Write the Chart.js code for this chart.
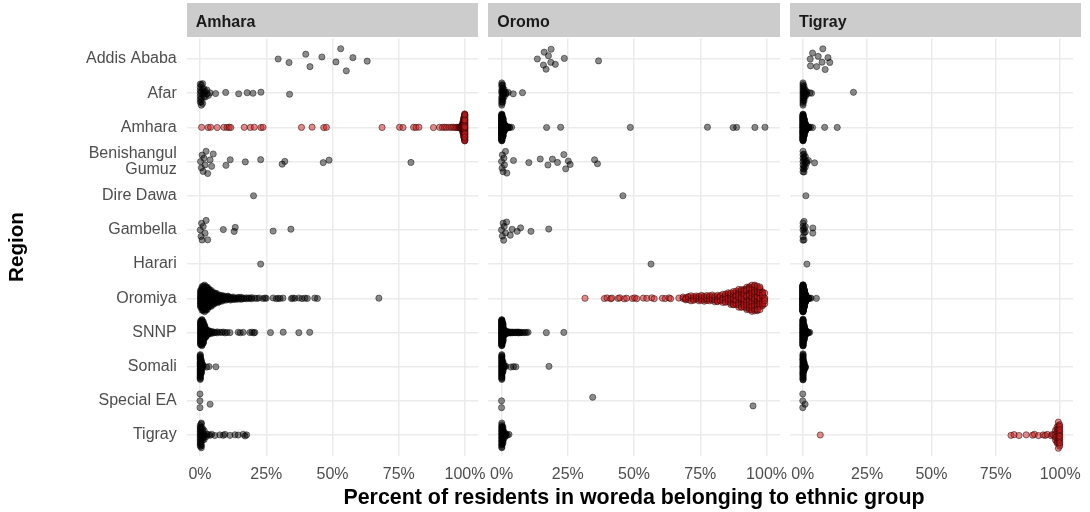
<!DOCTYPE html>
<html>
<head>
<meta charset="utf-8">
<script src="https://cdn.jsdelivr.net/npm/chart.js@4.4.1/dist/chart.umd.min.js"></script>
<style>
  html, body { margin: 0; padding: 0; background: #fff; }
  body { width: 1090px; height: 512px; position: relative; overflow: hidden;
         font-family: "Liberation Sans", Arial, Helvetica, sans-serif; }
  canvas { position: absolute; left: 0; top: 0; }
  .strip { position: absolute; top: 3.3px; height: 34.2px; background: #cccccc; }
  .strip span { position: absolute; left: 9px; top: 10.5px; font-size: 16px; line-height: 16px;
                font-weight: bold; color: #1a1a1a; white-space: nowrap; }
  .xtitle { position: absolute; left: 0; width: 1268px; top: 486.5px; text-align: center;
            font-size: 21.4px; line-height: 21.4px; font-weight: bold; color: #000; white-space: nowrap; }
  .ytitle { position: absolute; left: -84px; top: 235px; width: 200px; height: 24px; line-height: 24px;
            text-align: center; font-size: 20.6px; font-weight: bold; color: #000;
            transform: rotate(-90deg); }
</style>
</head>
<body>
<canvas id="panel0" width="1090" height="512"></canvas>
<canvas id="panel1" width="1090" height="512"></canvas>
<canvas id="panel2" width="1090" height="512"></canvas>
<div id="strips"></div>
<div class="ytitle">Region</div>
<div class="xtitle">Percent of residents in woreda belonging to ethnic group</div>
<script>
(function () {
  "use strict";

  // 지역(행) / 민족(패널) / 눈금
  const regions = ["Addis Ababa", "Afar", "Amhara", "Benishangul Gumuz", "Dire Dawa", "Gambella",
    "Harari", "Oromiya", "SNNP", "Somali", "Special EA", "Tigray"];
  const panels = ["Amhara", "Oromo", "Tigray"];
  const homeRegion = ["Amhara", "Oromiya", "Tigray"];
  const xTicks = [0, 25, 50, 75, 100];

  // woreda share (%) per region, in region order.
  // a number = one woreda, [value, count] = count woredas at that value
  const amharaShare = [
    [29.5, 33.6, 39.9, 41.5, 46.0, 51.3, 53.1, 55.2, 57.7, 63.1],
    [[0.1, 7], [0.5, 5], [1, 4], [1.5, 3], [2, 2], [2.6, 2], [3.2, 1], [3.8, 1], 5.9, 9.7, 14.6, 17.8, 20.0, 23.0, 33.8],
    [0.6, 3.1, 4.0, 6.5, 9.0, 10.2, 11.0, 11.6, 16.7, 19.0, 20.5, 23.0, 23.8, 38.3, 42.3, 46.7, 47.7,
      68.7, 75.3, 76.6, 80.6, 81.5, 82.6, 88.1, 90.4, 91.5, 92.3, 93.0, 94.0, 94.8, 95.5, 96.2, 96.8, 97.3,
      [97.8, 2], [98.2, 3], [98.6, 5], [99, 10], [99.3, 20], [99.6, 35], [99.9, 55]],
    [0.2, 0.5, 0.8, 1.2, 1.5, 1.9, 2.3, 2.9, 3.8, 4.4, 5.0, 9.8, 11.4, 17.1, 22.9, 31.0, 32.0, 46.5, 48.7, 79.6],
    [20.2],
    [0.1, 0.4, 0.6, 0.8, 1.2, 1.9, 2.3, 2.9, 8.8, 12.9, 13.3, 27.6, 34.3],
    [22.9],
    [[0.25, 18], [0.75, 17], [1.25, 18], [1.75, 17], [2.25, 15], [2.75, 15], [3.25, 11], [3.75, 11], [4.25, 9], [4.75, 8],
      [5.25, 7], [5.75, 7], [6.25, 6], [6.75, 5], [7.25, 5], [7.75, 4], [8.25, 4], [8.75, 3], [9.25, 3], [9.75, 3],
      [10.5, 5], [11.5, 4], [12.5, 4], [13.5, 3], [14.5, 3], [15.5, 3], [16.5, 2], [17.5, 2], [18.5, 2], [19.5, 2],
      20.7, 21.5, 22.3, 23.8, 24.5, 25.0, 27.6, 28.8, 29.5, 30.2, 31.3, 34.5, 35.0, 35.8, 37.3, 38.5, 39.6, 40.5,
      43.3, 44.3, 67.5],
    [[0.25, 30], [0.75, 28], [1.25, 22], [1.75, 15], [2.25, 9], [2.75, 6], [3.25, 4], [3.75, 3], [4.5, 3], [5.5, 2], [6.5, 2],
      7.5, 8.2, 8.8, 9.5, 10.2, 11.3, 14.4, 15.2, 16.3, 18.8, 19.6, 20.3, 20.7, 26.6, 31.4, 37.3, 41.4],
    [[0.1, 28], [0.5, 14], [1, 5], 2.5, 3.4, 6.0],
    [0, 0, 0, 3.8],
    [[0.1, 14], [0.5, 10], [1, 6], [1.6, 4], [2.5, 2], 3.2, 3.8, 4.4, 5.6, 7.5, 8.8, 9.4, 11.3, 13.2, 14.4, 16.3, 17.0, 17.6],
  ];

  const oromoShare = [
    [13.5, 15.8, 16.1, 16.8, 17.7, 18.6, 18.7, 20.3, 23.7, 36.6],
    [[0.1, 12], [0.5, 8], [1, 4], [1.7, 2], [2.5, 1], 4.4, 7.9],
    [[0.1, 70], [0.5, 50], [1, 20], [1.6, 8], [2.3, 4], [3, 2], [3.8, 1], 17.0, 22.3, 48.6, 77.7, 87.4, 88.7, 95.6, 99.4],
    [0.0, 0.2, 0.3, 0.6, 0.9, 1.1, 1.5, 2.0, 4.5, 10.3, 14.6, 17.5, 19.2, 21.1, 23.5, 24.2, 25.2, 25.9, 35.1, 36.2],
    [45.8],
    [0.0, 0.3, 0.6, 0.8, 1.0, 1.5, 1.9, 3.3, 4.0, 5.9, 7.2, 11.1, 17.8],
    [56.4],
    [31.5, 38.8, 39.8, 41.2, 41.6, 44.0, 44.6, 46.3, 47.2, 49.4, 50.2, 51.0, 53.5, 54.8, 56.7, 57.6, 60.7, 61.8, 63.2,
      63.8, 66.9,
      [68.5, 2], [69.5, 3], [70.5, 3], [71.5, 3], [72.5, 4], [73.5, 3], [74.5, 4], [75.5, 4], [76.5, 4], [77.5, 4],
      [78.5, 4], [79.5, 4], [80.5, 4], [81.5, 5], [82.5, 5], [83.5, 5], [84.5, 6], [85.5, 7], [86.5, 8], [87.5, 9],
      [88.5, 10], [89.5, 11], [90.5, 12], [91.5, 13], [92.5, 14], [93.5, 16], [94.5, 17], [95.5, 18], [96.5, 18],
      [97.5, 16], [98.5, 12], [99.3, 5]],
    [[0.1, 55], [0.5, 35], [1, 12], [1.6, 6], [2.2, 4], [2.8, 3], [3.4, 3], [4, 2], [4.6, 2], [5.2, 2], [5.8, 2],
      [6.4, 2], [7, 2], [7.6, 1], [8.2, 1], [8.8, 1], [9.4, 1], [10, 1], 16.9, 23.5],
    [[0.1, 30], [0.5, 12], [1, 4], [1.6, 1], 3.5, 4.5, 5.4, 17.9],
    [0, 0, 34.4, 94.9],
    [[0.1, 22], [0.5, 14], [1, 6], [1.6, 3], [2.2, 1], 2.8],
  ];

  const tigrayShare = [
    [2.9, 3.0, 3.8, 5.4, 6.0, 7.5, 7.8, 8.7, 9.8, 10.5],
    [[0.1, 14], [0.5, 8], [1, 4], [1.6, 2], 2.8, 3.4, 19.7],
    [[0.1, 75], [0.5, 50], [1, 22], [1.6, 8], [2.3, 3], 3.0, 3.8, 8.5, 13.4],
    [[0.1, 7], [0.5, 6], [1, 3], [1.5, 2], 2.2, 4.6],
    [1.2],
    [[0.1, 5], [0.5, 4], [1, 2], 3.9, 3.9],
    [1.6],
    [[0.1, 130], [0.5, 90], [1, 40], [1.6, 12], [2.2, 5], 2.7, 3.2, 5.3],
    [[0.1, 70], [0.5, 40], [1, 15], [1.6, 5], [2.2, 2], 2.7],
    [[0.1, 35], [0.5, 12], [1, 3]],
    [0, 0, 0.9, 0],
    [6.8, 80.9, 82.1, 84.0, 86.8, 89.3, 90.0, 91.6, 93.4, 94.2, 95.0, 96.5, 97.0, 97.5,
      [98.2, 4], [98.8, 6], [99.3, 8], [99.8, 14]],
  ];

  const shares = [amharaShare, oromoShare, tigrayShare];

  // 레이아웃 (px)
  const W = 1090;
  const panelLeft = [186.75, 488.3, 789.9];
  const panelWidth = 291.5;
  const plotTop = 38.5;
  const plotBottom = 455.5;

  const FONT = '"Liberation Sans", Arial, Helvetica, sans-serif';
  Chart.defaults.font.family = FONT;

  // --- quasirandom offsets (ggbeeswarm 방식) ---
  function expand(group) {
    const out = [];
    group.forEach((e) => {
      if (Array.isArray(e)) for (let k = 0; k < e[1]; k++) out.push(e[0]);
      else out.push(e);
    });
    return out;
  }

  function vanDerCorput(i) {
    let v = 0, denom = 1;
    while (i > 0) {
      denom *= 2;
      v += (i % 2) / denom;
      i = Math.floor(i / 2);
    }
    return v;
  }

  function quantile(sorted, p) {
    const h = (sorted.length - 1) * p;
    const lo = Math.floor(h);
    const hi = Math.min(lo + 1, sorted.length - 1);
    return sorted[lo] + (h - lo) * (sorted[hi] - sorted[lo]);
  }

  function bwNrd0(vals) {
    const n = vals.length;
    if (n < 2) return 1;
    const mean = vals.reduce((a, b) => a + b, 0) / n;
    const sd = Math.sqrt(vals.reduce((a, b) => a + (b - mean) * (b - mean), 0) / (n - 1));
    const sorted = vals.slice().sort((a, b) => a - b);
    const iqr = quantile(sorted, 0.75) - quantile(sorted, 0.25);
    let lo = Math.min(sd, iqr / 1.34);
    if (!lo) lo = sd || Math.abs(vals[0]) || 1;
    return 0.9 * lo * Math.pow(n, -0.2);
  }

  function quasirandom(vals, width) {
    const n = vals.length;
    if (n < 2) return vals.map(() => 0);
    const bw = bwNrd0(vals) * 0.5;
    const dens = vals.map((x) => {
      let s = 0;
      for (let j = 0; j < n; j++) {
        const z = (x - vals[j]) / bw;
        s += Math.exp(-0.5 * z * z);
      }
      return s;
    });
    const maxD = Math.max(...dens);
    const order = vals.map((v, i) => i).sort((a, b) => vals[a] - vals[b]);
    const rank = new Array(n);
    order.forEach((idx, r) => { rank[idx] = r + 1; });
    return vals.map((v, i) => (vanDerCorput(rank[i]) - 0.5) * 2 * (dens[i] / maxD) * width);
  }

  function buildPoints(share, p) {
    const home = [], other = [];
    share.forEach((group, r) => {
      const vals = expand(group);
      const offs = quasirandom(vals, 0.4);
      const target = regions[r] === homeRegion[p] ? home : other;
      vals.forEach((v, i) => target.push({ x: v, y: r - offs[i] }));
    });
    return { home, other };
  }

  function regionLabel(v) {
    const name = regions[Math.round(v)] || "";
    return name === "Benishangul Gumuz" ? ["Benishangul", "Gumuz"] : name;
  }

  function makePanel(p) {
    const pts = buildPoints(shares[p], p);
    const left = panelLeft[p];
    const showY = p === 0;
    const grid = { color: "#ebebeb", lineWidth: 1.5, drawTicks: false };
    return new Chart(document.getElementById("panel" + p).getContext("2d"), {
      type: "scatter",
      data: {
        datasets: [
          {
            label: "other",
            data: pts.other,
            backgroundColor: "rgba(0,0,0,0.45)",
            borderColor: "rgba(0,0,0,0.5)",
            pointRadius: 3.1,
            pointHoverRadius: 3.1,
            borderWidth: 0.9,
          },
          {
            label: "home",
            data: pts.home,
            backgroundColor: "rgba(200,30,30,0.5)",
            borderColor: "rgba(50,0,0,0.6)",
            pointRadius: 3.1,
            pointHoverRadius: 3.1,
            borderWidth: 0.9,
          },
        ],
      },
      options: {
        responsive: false,
        animation: false,
        devicePixelRatio: 1,
        events: [],
        layout: {
          padding: {
            left: showY ? 0 : left,
            right: W - (left + panelWidth),
            top: plotTop,
            bottom: 0,
          },
        },
        plugins: { legend: { display: false }, tooltip: { enabled: false } },
        scales: {
          x: {
            type: "linear",
            min: -5,
            max: 105,
            afterBuildTicks: (s) => { s.ticks = xTicks.map((v) => ({ value: v })); },
            afterFit: (s) => { s.height = 512 - plotBottom; },
            ticks: {
              callback: (v) => v + "%",
              color: "#4d4d4d",
              font: { size: 16 },
              padding: 9,
              maxRotation: 0,
              autoSkip: false,
            },
            grid: grid,
            border: { display: false },
          },
          y: {
            type: "linear",
            min: -0.6,
            max: 11.6,
            reverse: true,
            afterBuildTicks: (s) => { s.ticks = regions.map((_, i) => ({ value: i })); },
            afterFit: (s) => { s.width = showY ? left : 0; },
            ticks: {
              display: showY,
              callback: (v) => regionLabel(v),
              color: "#4d4d4d",
              font: { size: 16, lineHeight: 1.05 },
              padding: 10,
              autoSkip: false,
            },
            grid: grid,
            border: { display: false },
          },
        },
      },
    });
  }

  // 패널 스트립
  const strips = document.getElementById("strips");
  panels.forEach((name, p) => {
    const d = document.createElement("div");
    d.className = "strip";
    d.style.left = panelLeft[p] + "px";
    d.style.width = panelWidth + "px";
    const s = document.createElement("span");
    s.textContent = name;
    d.appendChild(s);
    strips.appendChild(d);
  });

  panels.forEach((_, p) => makePanel(p));
})();
</script>
</body>
</html>
